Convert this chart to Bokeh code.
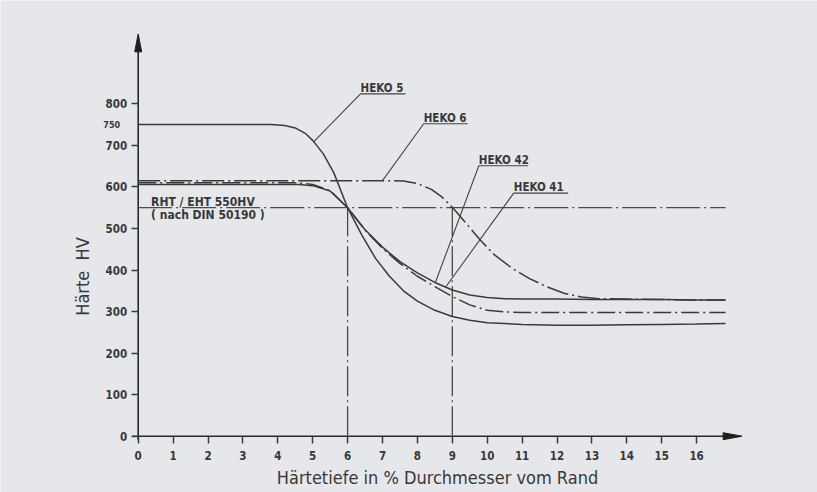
import math
from bokeh.plotting import figure
from bokeh.models import Range1d, LinearAxis, FixedTicker
from bokeh.embed import file_html
from bokeh.resources import INLINE
from bokeh.core.properties import value

# ---------------- data ----------------
x_ticks = list(range(0, 17))
y_ticks = [0, 100, 200, 300, 400, 500, 600, 700, 800]
y_extra_tick = [750]

heko5_x = [0, 3.8, 4.2, 4.5, 4.8, 5.0, 5.3, 5.6, 6.0, 6.4, 6.8, 7.2, 7.6, 8.0, 8.5, 9.0, 9.5,
           10.0, 11.0, 12.0, 13.0, 14.0, 15.0, 16.0, 16.83]
heko5_y = [750, 750, 748, 742, 728, 712, 680, 635, 550, 485, 428, 385, 350, 325, 303, 288, 279,
           273, 269, 267, 267, 268, 269, 270, 271]

heko42_x = [0, 4.6, 5.0, 5.5, 6.0, 6.5, 7.0, 7.5, 8.0, 8.5, 9.0, 9.5, 10.0, 10.5, 11.0, 12.0,
            13.0, 14.0, 15.0, 16.0, 16.83]
heko42_y = [606, 606, 603, 590, 550, 497, 455, 420, 393, 370, 352, 340, 334, 331, 330, 330,
            329, 329, 329, 328, 328]

heko41_x = [0, 4.6, 5.0, 5.5, 6.0, 6.5, 7.0, 7.5, 8.0, 8.5, 9.0, 9.5, 10.0, 10.5, 11.0, 12.0,
            13.0, 14.0, 15.0, 16.0, 16.83]
heko41_y = [610, 610, 606, 591, 550, 496, 452, 416, 385, 360, 336, 316, 303, 299, 298, 298,
            298, 298, 298, 298, 298]

heko6_x = [0, 7.2, 7.6, 8.0, 8.4, 8.7, 9.0, 9.4, 9.8, 10.2, 10.7, 11.2, 11.7, 12.2, 12.7, 13.2,
           14.0, 15.0, 16.0, 16.83]
heko6_y = [615, 615, 614, 608, 594, 576, 551, 512, 472, 437, 405, 380, 360, 344, 335, 331,
           330, 329, 328, 328]

ref_level = 550
ref_depths = [6, 9]
curve_end = 16.83

label_names = ["HEKO 5", "HEKO 6", "HEKO 42", "HEKO 41"]
leader_from_x = [5.02, 6.99, 8.52, 8.81]
leader_from_y = [708, 614, 371, 359]
leader_to_x = [6.37, 8.18, 9.76, 10.76]
leader_to_y = [824, 752, 651, 585]
underline_end_x = [7.66, 9.44, 11.17, 12.32]

x_title = "Härtetiefe in % Durchmesser vom Rand"
y_title = "Härte\u00a0\u00a0HV"
ref_text_1 = "RHT / EHT 550HV"
ref_text_2 = "( nach DIN 50190 )"

# ---------------- style ----------------
FONT = "DejaVu Sans Condensed"
BG = "#e5e7ea"
INK = "#383838"
LINE = "#3a3a3a"

W, H = 817, 492
OX, OY = 137.7, 435.7          # pixel position of the origin
SX, SY = 34.9, 0.4155          # pixels per data unit

p = figure(width=W, height=H, output_backend="svg", toolbar_location=None,
           x_range=Range1d(-OX / SX, (W - OX) / SX),
           y_range=Range1d(-(H - OY) / SY, OY / SY),
           x_axis_location=None, y_axis_location=None, title=None,
           min_border=0, min_border_left=0, min_border_right=0,
           min_border_top=0, min_border_bottom=0)
p.background_fill_color = BG
p.border_fill_color = BG
p.outline_line_color = None
p.xgrid.visible = False
p.ygrid.visible = False

xaxis = LinearAxis(fixed_location=0, ticker=FixedTicker(ticks=x_ticks, minor_ticks=[]))
xaxis.axis_line_color = None
xaxis.major_tick_out = 7
xaxis.major_tick_in = 0
xaxis.major_tick_line_color = LINE
xaxis.major_tick_line_width = 1.5
xaxis.minor_tick_line_color = None
xaxis.major_label_standoff = 8
xaxis.major_label_text_font = FONT
xaxis.major_label_text_font_size = "11.5px"
xaxis.major_label_text_font_style = "bold"
xaxis.major_label_text_color = INK
p.add_layout(xaxis, "below")

yaxis = LinearAxis(fixed_location=0, ticker=FixedTicker(ticks=y_ticks, minor_ticks=[]))
yaxis.axis_line_color = None
yaxis.major_tick_out = 7
yaxis.major_tick_in = 0
yaxis.major_tick_line_color = LINE
yaxis.major_tick_line_width = 1.5
yaxis.minor_tick_line_color = None
yaxis.major_label_standoff = 4
yaxis.major_label_text_font = FONT
yaxis.major_label_text_font_size = "11.5px"
yaxis.major_label_text_font_style = "bold"
yaxis.major_label_text_color = INK
p.add_layout(yaxis, "left")

yaxis2 = LinearAxis(fixed_location=0, ticker=FixedTicker(ticks=y_extra_tick, minor_ticks=[]))
yaxis2.axis_line_color = None
yaxis2.major_tick_line_color = None
yaxis2.minor_tick_line_color = None
yaxis2.major_tick_out = 7
yaxis2.major_label_standoff = 11
yaxis2.major_label_text_font = FONT
yaxis2.major_label_text_font_size = "9px"
yaxis2.major_label_text_font_style = "bold"
yaxis2.major_label_text_color = INK
p.add_layout(yaxis2, "left")

# axis titles
p.text(x=[(437 - OX) / SX], y=[(OY - 477) / SY], text=[x_title], text_font=value(FONT),
       text_font_size="18px", text_color=INK, text_baseline="middle", text_align="center")
p.text(x=[(82 - OX) / SX], y=[(OY - 276) / SY], text=[y_title], text_font=value(FONT),
       text_font_size="18px", text_color=INK, text_baseline="middle", text_align="center",
       angle=math.pi / 2)

# axis lines with arrowheads
p.line([-0.17, 16.76], [0, 0], line_color="#2a2a2a", line_width=1.6)
p.line([0, 0], [-10, 925], line_color="#2a2a2a", line_width=1.6)
p.patch([16.76, 17.3, 16.76], [-8.4, 0, 8.4], fill_color="#1e1e1e", line_color="#1e1e1e", line_width=1)
p.patch([-0.1, 0, 0.1], [925, 968, 925], fill_color="#1e1e1e", line_color="#1e1e1e", line_width=1)

# reference lines
p.line([0, curve_end], [ref_level, ref_level], line_color="#4a4a4a", line_width=1.3,
       line_dash="34 4 2 4")
for d in ref_depths:
    p.line([d, d], [0, ref_level], line_color="#4a4a4a", line_width=1.3, line_dash="30 4 2 4")

# curves
p.line(heko5_x, heko5_y, line_color=LINE, line_width=1.5)
p.line(heko42_x, heko42_y, line_color=LINE, line_width=1.5)
p.line(heko41_x, heko41_y, line_color=LINE, line_width=1.5, line_dash="18 4 2 4")
p.line(heko6_x, heko6_y, line_color=LINE, line_width=1.5, line_dash="22 4 2 4")

# leader lines + labels
for i, name in enumerate(label_names):
    p.line([leader_from_x[i], leader_to_x[i], underline_end_x[i]],
           [leader_from_y[i], leader_to_y[i], leader_to_y[i]],
           line_color="#444444", line_width=1.1)
p.text(x=leader_to_x, y=[v - 3 for v in leader_to_y], text=label_names,
       text_font=value(FONT), text_font_size="11.5px", text_font_style="bold",
       text_color=INK, text_baseline="bottom", text_align="left")

# reference level annotation
p.text(x=[0.37], y=[548], text=[ref_text_1], text_font=value(FONT),
       text_font_size="12px", text_font_style="bold", text_color=INK,
       text_baseline="bottom", text_align="left")
p.text(x=[0.37], y=[550], text=[ref_text_2], text_font=value(FONT),
       text_font_size="12px", text_font_style="bold", text_color=INK,
       text_baseline="top", text_align="left")

open("out.html", "w").write(file_html(p, INLINE))
